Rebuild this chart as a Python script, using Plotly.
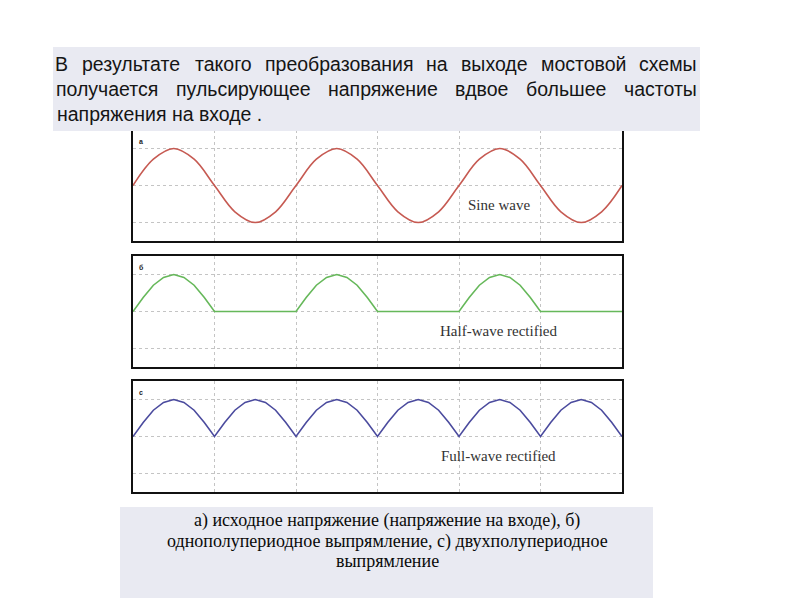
import plotly.graph_objects as go

W, H = 800, 600
OFF = 8  # page body margin of the HTML page

# ---------------- data (x in grid divisions) ----------------
sine_x = [0, 0.25, 0.5, 0.75, 1, 1.25, 1.5, 1.75, 2, 2.25, 2.5, 2.75, 3,
          3.25, 3.5, 3.75, 4, 4.25, 4.5, 4.75, 5, 5.25, 5.5, 5.75, 6]
sine_y = [0, 0.71, 1, 0.71, 0, -0.71, -1, -0.71, 0, 0.71, 1, 0.71, 0,
          -0.71, -1, -0.71, 0, 0.71, 1, 0.71, 0, -0.71, -1, -0.71, 0]

half_x = [0, 0.125, 0.25, 0.375, 0.5, 0.625, 0.75, 0.875, 1, 2,
          2.125, 2.25, 2.375, 2.5, 2.625, 2.75, 2.875, 3, 4,
          4.125, 4.25, 4.375, 4.5, 4.625, 4.75, 4.875, 5, 6]
half_y = [0, 0.38, 0.71, 0.92, 1, 0.92, 0.71, 0.38, 0, 0,
          0.38, 0.71, 0.92, 1, 0.92, 0.71, 0.38, 0, 0,
          0.38, 0.71, 0.92, 1, 0.92, 0.71, 0.38, 0, 0]

full_x = [0, 0.125, 0.25, 0.375, 0.5, 0.625, 0.75, 0.875,
          1, 1.125, 1.25, 1.375, 1.5, 1.625, 1.75, 1.875,
          2, 2.125, 2.25, 2.375, 2.5, 2.625, 2.75, 2.875,
          3, 3.125, 3.25, 3.375, 3.5, 3.625, 3.75, 3.875,
          4, 4.125, 4.25, 4.375, 4.5, 4.625, 4.75, 4.875,
          5, 5.125, 5.25, 5.375, 5.5, 5.625, 5.75, 5.875, 6]
full_y = [0, 0.38, 0.71, 0.92, 1, 0.92, 0.71, 0.38,
          0, 0.38, 0.71, 0.92, 1, 0.92, 0.71, 0.38,
          0, 0.38, 0.71, 0.92, 1, 0.92, 0.71, 0.38,
          0, 0.38, 0.71, 0.92, 1, 0.92, 0.71, 0.38,
          0, 0.38, 0.71, 0.92, 1, 0.92, 0.71, 0.38,
          0, 0.38, 0.71, 0.92, 1, 0.92, 0.71, 0.38, 0]

panel_letters = ["a", "б", "c"]
panel_titles = ["Sine wave", "Half-wave rectified", "Full-wave rectified"]

header_lines = [
    "В результате такого преобразования на выходе мостовой схемы",
    "получается пульсирующее напряжение вдвое большее частоты",
    "напряжения на входе .",
]
header_justify = [True, True, False]
header_line_y = [64, 89, 114]

caption_lines = [
    "а) исходное напряжение (напряжение на входе), б)",
    "однополупериодное выпрямление, с) двухполупериодное",
    "выпрямление",
]
caption_line_y = [520, 541, 561]

# ---------------- layout helpers ----------------
def px(x):
    return (x - OFF) / W

def py(y):
    return 1 - (y - OFF) / H

# approximate Liberation Sans (Arial metric) advance widths, per 1000 em
CHAR_W = {"В": 667, "а": 556, "б": 573, "в": 531, "г": 365, "д": 583, "е": 556,
          "ж": 669, "з": 458, "и": 559, "й": 559, "к": 438, "л": 583, "м": 688,
          "н": 552, "о": 556, "п": 542, "р": 556, "с": 500, "т": 458, "у": 500,
          "х": 500, "ц": 573, "ч": 521, "ш": 802, "щ": 823, "ы": 719, "ь": 521,
          "ю": 750, "я": 542, ".": 278}

HDR_SIZE = 19.5
TXT_L, TXT_R = 55, 697

def word_w(w):
    return sum(CHAR_W.get(c, 556) for c in w) / 1000 * HDR_SIZE

panels = [(130, 241), (256, 367), (381, 492)]
x_left, x_right = 133, 622
colors = ["#c65a52", "#66b85a", "#4b4b9e"]

fig = go.Figure()
series = [(sine_x, sine_y, "spline"), (half_x, half_y, "linear"), (full_x, full_y, "linear")]
for i, (xs, ys, shape) in enumerate(series):
    n = "" if i == 0 else str(i + 1)
    fig.add_trace(go.Scatter(x=xs, y=ys, mode="lines",
                             line=dict(color=colors[i], width=1.6, shape=shape),
                             xaxis="x" + n, yaxis="y" + n, showlegend=False,
                             hoverinfo="skip"))
    top, bot = panels[i]
    axis_common = dict(showline=True, mirror=True, linecolor="#111111", linewidth=2,
                       showgrid=True, gridcolor="#c4c4c4", griddash="dot", gridwidth=1,
                       zeroline=False, showticklabels=False, ticks="", fixedrange=True)
    fig.layout["xaxis" + n] = dict(domain=[px(x_left), px(x_right)], range=[0, 6],
                                   tickvals=[1, 2, 3, 4, 5], anchor="y" + n, **axis_common)
    fig.layout["yaxis" + n] = dict(domain=[py(bot), py(top)], range=[-1.5, 1.5],
                                   tickvals=[-1, 0, 1], anchor="x" + n, **axis_common)
    fig.add_annotation(x=px(141), y=py(top + 11), xref="paper", yref="paper",
                       text="<b>" + panel_letters[i] + "</b>", showarrow=False,
                       xanchor="center", yanchor="middle",
                       font=dict(family="Liberation Sans", size=7, color="#222"))
    fig.add_annotation(x=4.49, y=-0.53, xref="x" + n, yref="y" + n,
                       text=panel_titles[i], showarrow=False,
                       xanchor="center", yanchor="middle",
                       font=dict(family="Liberation Serif", size=15, color="#333333"))

# boxes
fig.add_shape(type="rect", xref="paper", yref="paper", layer="above",
              x0=px(53), x1=px(700), y0=py(131), y1=py(47),
              fillcolor="#e9eaf2", line=dict(width=0))
fig.add_shape(type="rect", xref="paper", yref="paper", layer="below",
              x0=px(120), x1=px(653), y0=py(598), y1=py(507),
              fillcolor="#e9eaf2", line=dict(width=0))

# header text, justified by placing words individually (centred in their slots)
for line, just, yl in zip(header_lines, header_justify, header_line_y):
    if just:
        words = line.split(" ")
        widths = [word_w(w) for w in words]
        gap = (TXT_R - TXT_L - sum(widths)) / (len(words) - 1)
        xcur = TXT_L
        for w, ww in zip(words, widths):
            fig.add_annotation(x=px(xcur + ww / 2), y=py(yl),
                               xref="paper", yref="paper", text=w, showarrow=False,
                               xanchor="center", yanchor="middle",
                               font=dict(family="Liberation Sans", size=HDR_SIZE, color="#151515"))
            xcur += ww + gap
    else:
        fig.add_annotation(x=px(TXT_L), y=py(yl), xref="paper", yref="paper",
                           text=line, showarrow=False, xanchor="left", yanchor="middle",
                           font=dict(family="Liberation Sans", size=HDR_SIZE, color="#151515"))

for line, yl in zip(caption_lines, caption_line_y):
    fig.add_annotation(x=px(387), y=py(yl), xref="paper", yref="paper",
                       text=line, showarrow=False, xanchor="center", yanchor="middle",
                       font=dict(family="Liberation Serif", size=18, color="#0a0a0a"))

fig.update_layout(width=W, height=H, margin=dict(l=0, r=0, t=0, b=0),
                  paper_bgcolor="white", plot_bgcolor="white", showlegend=False)

fig.write_html("out.html")
